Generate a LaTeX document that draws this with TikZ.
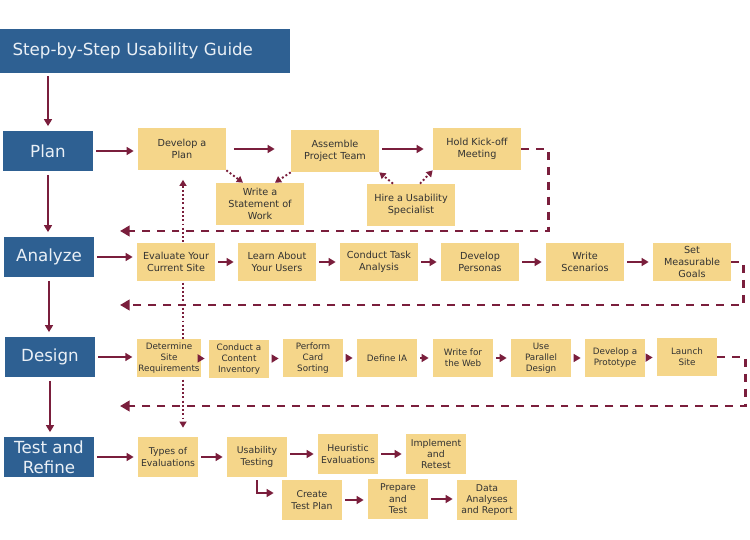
\documentclass[tikz,border=0pt]{standalone}
\usepackage{fontspec}
\setmainfont{DejaVu Sans}
\usepackage{tikz}
\usetikzlibrary{arrows.meta, calc, backgrounds}
\definecolor{phaseblue}{RGB}{46, 96, 146}
\definecolor{stepfill}{RGB}{245, 214, 138}
\definecolor{linkred}{RGB}{122, 30, 60}
\definecolor{steptext}{RGB}{50, 50, 50}
\definecolor{titletext}{RGB}{234, 240, 246}

\begin{document}
\begin{tikzpicture}[
    x=0.02cm, y=-0.02cm,
    phase/.style={rectangle, fill=phaseblue, text=titletext, minimum width=1.8cm, minimum height=0.82cm, inner sep=1pt, align=center, font=\fontsize{9.5}{11.5}\selectfont},
    stepbox/.style={rectangle, fill=stepfill, text=steptext, minimum width=1.76cm, minimum height=0.84cm, inner sep=1pt, align=center, font=\fontsize{5.5}{6.8}\selectfont},
    midstep/.style={stepbox, minimum width=1.56cm, minimum height=0.78cm},
    smallstep/.style={stepbox, minimum width=1.2cm, minimum height=0.78cm, font=\fontsize{5}{6.2}\selectfont},
    teststep/.style={stepbox, minimum width=1.2cm, minimum height=0.8cm, font=\fontsize{5.3}{6.5}\selectfont},
    arrow/.style={-{Triangle[length=4pt, width=4.5pt]}, line width=1.1pt, color=linkred, shorten >=0.8mm, shorten <=0.6mm},
    dasharrow/.style={-{Triangle[length=5.5pt, width=6pt]}, line width=1.6pt, color=linkred, dash pattern=on 4.5pt off 4pt},
    dotarrow/.style={-{Triangle[length=3.5pt, width=4pt]}, line width=1.1pt, color=linkred, dash pattern=on 1.1pt off 1.3pt}
]
    \useasboundingbox (0,0) rectangle (750,540);

    % Phases
    \node[phase, minimum width=5.8cm, minimum height=0.88cm, text width=5.3cm, align=left] (title) at (145,51) {Step-by-Step Usability Guide};
    \node[phase] (plan) at (48,151) {Plan};
    \node[phase] (analyze) at (49,257) {Analyze};
    \node[phase] (design) at (50,357) {Design};
    \node[phase] (test) at (49,457) {Test and\\Refine};

    % Plan row
    \node[stepbox] (devplan) at (182,149) {Develop a\\Plan};
    \node[stepbox] (assemble) at (335,151) {Assemble\\Project Team};
    \node[stepbox] (kickoff) at (477,149) {Hold Kick-off\\Meeting};
    \node[stepbox] (statement) at (260,204) {Write a\\Statement of\\Work};
    \node[stepbox] (hire) at (411,205) {Hire a Usability\\Specialist};

    % Analyze row
    \node[midstep] (evaluate) at (176,262) {Evaluate Your\\Current Site};
    \node[midstep] (learn) at (277,262) {Learn About\\Your Users};
    \node[midstep] (taskan) at (379,262) {Conduct Task\\Analysis};
    \node[midstep] (personas) at (480,262) {Develop\\Personas};
    \node[midstep] (scenarios) at (585,262) {Write\\Scenarios};
    \node[midstep] (goals) at (692,262) {Set\\Measurable\\Goals};

    % Design row
    \node[smallstep] (determine) at (169,358) {Determine\\Site\\Requirements};
    \node[smallstep] (inventory) at (239,359) {Conduct a\\Content\\Inventory};
    \node[smallstep] (cardsort) at (313,358) {Perform\\Card\\Sorting};
    \node[smallstep] (defineia) at (387,358) {Define IA};
    \node[smallstep] (webwrite) at (463,358) {Write for\\the Web};
    \node[smallstep] (parallel) at (541,358) {Use\\Parallel\\Design};
    \node[smallstep] (prototype) at (615,358) {Develop a\\Prototype};
    \node[smallstep] (launch) at (687,357) {Launch\\Site};

    % Test and refine row
    \node[teststep] (types) at (168,457) {Types of\\Evaluations};
    \node[teststep] (usability) at (257,457) {Usability\\Testing};
    \node[teststep] (heuristic) at (348,454) {Heuristic\\Evaluations};
    \node[teststep] (implement) at (436,454) {Implement\\and\\Retest};
    \node[teststep] (testplan) at (312,500) {Create\\Test Plan};
    \node[teststep] (prepare) at (398,499) {Prepare\\and\\Test};
    \node[teststep] (analyses) at (487,500) {Data\\Analyses\\and Report};

    % Return points
    \coordinate (back1) at (120,231);
    \coordinate (back2) at (120,305);
    \coordinate (back3) at (120,406);

    % Phase arrows
    \draw[arrow] (title.south -| plan.north) -- (plan.north);
    \draw[arrow] (plan.south) -- (plan.south |- analyze.north);
    \draw[arrow] (analyze.south) -- (analyze.south |- design.north);
    \draw[arrow] (design.south) -- (design.south |- test.north);

    % Row arrows
    \draw[arrow] (plan.east) -- (plan.east -| devplan.west);
    \draw[arrow, shorten >=3.2mm, shorten <=1.5mm] (devplan.east) -- (devplan.east -| assemble.west);
    \draw[arrow, shorten >=1.8mm] (assemble.east |- kickoff.west) -- (kickoff.west);
    \draw[arrow] (analyze.east) -- (analyze.east -| evaluate.west);
    \draw[arrow] (evaluate) -- (learn);
    \draw[arrow] (learn) -- (taskan);
    \draw[arrow] (taskan) -- (personas);
    \draw[arrow] (personas) -- (scenarios);
    \draw[arrow] (scenarios) -- (goals);
    \draw[arrow] (design.east) -- (design.east -| determine.west);
    \draw[arrow] (determine) -- (inventory);
    \draw[arrow] (inventory) -- (cardsort);
    \draw[arrow] (cardsort) -- (defineia);
    \draw[arrow] (defineia) -- (webwrite);
    \draw[arrow] (webwrite) -- (parallel);
    \draw[arrow] (parallel) -- (prototype);
    \draw[arrow] (prototype) -- (launch);
    \draw[arrow] (test.east) -- (test.east -| types.west);
    \draw[arrow] (types) -- (usability);
    \draw[arrow] (usability.east |- heuristic.west) -- (heuristic.west);
    \draw[arrow] (heuristic) -- (implement);
    \draw[arrow] (usability.south) |- ($(testplan.west)+(-4,-7)$);
    \draw[arrow] (testplan.east) -- (testplan.east -| prepare.west);
    \draw[arrow] (prepare.east) -- (prepare.east -| analyses.west);

    % Dotted links
    \draw[dotarrow] (devplan.south east) -- ($(statement.north)+(-17,0)$);
    \draw[dotarrow] (assemble.south west) -- ($(statement.north)+(15,0)$);
    \draw[dotarrow] ($(hire.north)+(-18,0)$) -- (assemble.south east);
    \draw[dotarrow] ($(hire.north)+(9,0)$) -- (kickoff.south west);

    % Dashed returns
    \draw[dasharrow] (kickoff.east) -- ++(27,0) |- (back1);
    \draw[dasharrow] (goals.east) -- ++(12,0) |- (back2);
    \draw[dasharrow] (launch.east) -- ++(28,0) |- (back3);

    \begin{scope}[on background layer]
        \fill[white] (0,0) rectangle (750,540);
        \draw[dotarrow, {Triangle[length=3.5pt, width=4pt]}-{Triangle[length=3.5pt, width=4pt]}, shorten >=1.8mm, shorten <=1.9mm] ($(devplan.south)+(1,0)$) -- ($(devplan.south |- types.north)+(1,0)$);
    \end{scope}
\end{tikzpicture}
\end{document}
